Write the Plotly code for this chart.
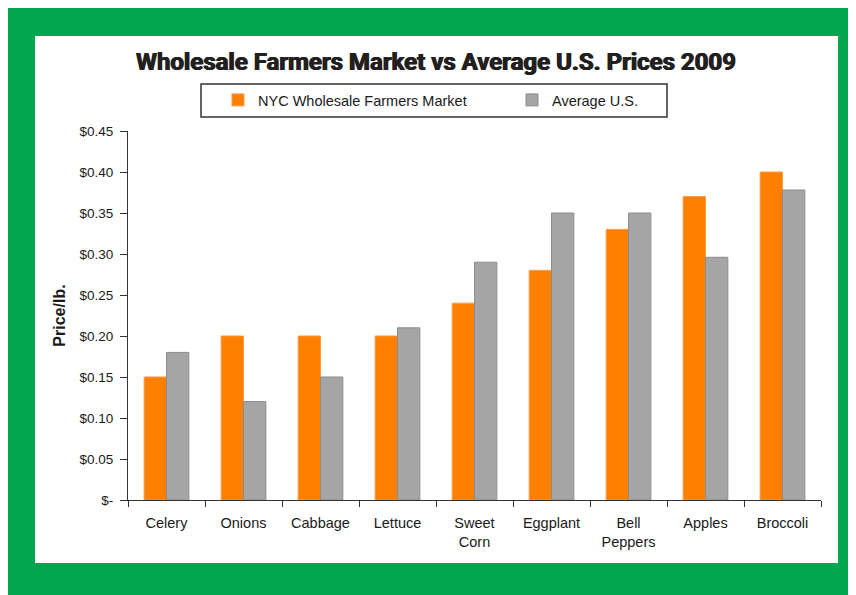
import plotly.graph_objects as go

categories = ["Celery", "Onions", "Cabbage", "Lettuce", "Sweet<br>Corn", "Eggplant", "Bell<br>Peppers", "Apples", "Broccoli"]
nyc_prices = [0.15, 0.20, 0.20, 0.20, 0.24, 0.28, 0.33, 0.37, 0.40]
us_prices = [0.18, 0.12, 0.15, 0.21, 0.29, 0.35, 0.35, 0.296, 0.378]
y_tickvals = [0, 0.05, 0.10, 0.15, 0.20, 0.25, 0.30, 0.35, 0.40, 0.45]
y_ticktext = ["$-", "$0.05", "$0.10", "$0.15", "$0.20", "$0.25", "$0.30", "$0.35", "$0.40", "$0.45"]

# page body has an 8px margin; work in figure coordinates = screen - 8
O = 8
W, H = 856 - O, 595 - O
L, R, T, B = 128 - O, 35, 131 - O, 95
pw, ph = W - L - R, H - T - B


def px(x):
    # screen x -> paper fraction
    return (x - O - L) / pw


def py(y):
    # screen y -> paper fraction
    return (H - B - (y - O)) / ph


TXT = "Liberation Sans, Arial, sans-serif"

fig = go.Figure()
fig.add_trace(go.Bar(name="NYC Wholesale Farmers Market", x=categories, y=nyc_prices,
                     marker=dict(color="#FF7F00", line=dict(color="#FF9A40", width=1))))
fig.add_trace(go.Bar(name="Average U.S.", x=categories, y=us_prices,
                     marker=dict(color="#A5A5A5", line=dict(color="#8C8C8C", width=1))))

fig.update_layout(
    width=W, height=H,
    margin=dict(l=L, r=R, t=T, b=B),
    paper_bgcolor="white", plot_bgcolor="white",
    barmode="group", bargap=0.42, bargroupgap=0,
    font=dict(family=TXT, size=14, color="#1a1a1a"),
    title=dict(text="<b>Wholesale Farmers Market vs Average U.S. Prices 2009</b>",
               x=px(436), xref="paper", xanchor="center",
               y=1 - (62 - O) / H, yanchor="middle",
               font=dict(family="Roboto, Arial Black, sans-serif", size=24, color="#231f20", weight=900,
                         shadow="0.6px 0 0 #231f20, -0.6px 0 0 #231f20")),
    legend=dict(orientation="h", x=px(218), y=py(100), xanchor="left", yanchor="middle",
                xref="paper", yref="paper",
                borderwidth=0, bgcolor="rgba(0,0,0,0)",
                font=dict(family=TXT, size=14.5, color="#1a1a1a"),
                entrywidth=249, entrywidthmode="pixels", itemwidth=30,
                traceorder="normal"),
    xaxis=dict(showline=True, linecolor="#333333", linewidth=1,
               ticks="outside", tickson="boundaries", ticklen=6, tickcolor="#333333",
               ticklabelstandoff=10,
               tickfont=dict(family=TXT, size=14.5, color="#1a1a1a"), showgrid=False),
    yaxis=dict(range=[0, 0.45], tickvals=y_tickvals, ticktext=y_ticktext,
               showline=True, linecolor="#333333", linewidth=1,
               ticks="outside", ticklen=7, tickcolor="#333333", showgrid=False, zeroline=False,
               ticklabelstandoff=4,
               tickfont=dict(family=TXT, size=13.5, color="#1a1a1a"),
               title=dict(text="<b>Price/lb.</b>", standoff=9,
                          font=dict(family=TXT, size=16, color="#1a1a1a"))),
    shapes=[
        dict(type="rect", xref="paper", yref="paper", layer="below",
             x0=px(0), x1=px(870), y0=py(610), y1=py(0),
             fillcolor="#00A650", line=dict(width=0)),
        dict(type="rect", xref="paper", yref="paper", layer="below",
             x0=px(35), x1=px(838), y0=py(563), y1=py(36),
             fillcolor="white", line=dict(width=0)),
        dict(type="rect", xref="paper", yref="paper", layer="below",
             x0=px(201), x1=px(667), y0=py(117), y1=py(84),
             fillcolor="white", line=dict(color="#333333", width=1.5)),
    ],
)

fig.write_html("out.html")
